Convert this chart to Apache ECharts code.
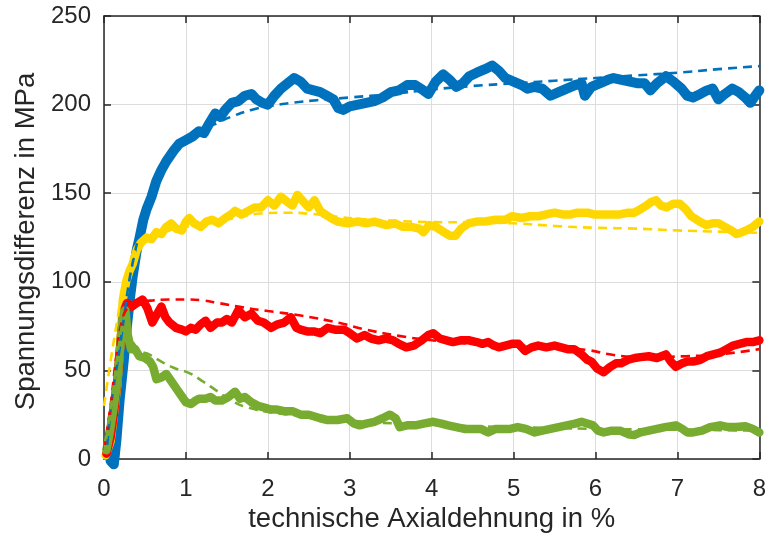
<!DOCTYPE html>
<html>
<head>
<meta charset="utf-8">
<script src="https://cdn.jsdelivr.net/npm/echarts@6/dist/echarts.min.js"></script>
<style>html,body{margin:0;padding:0;background:#fff}#c{width:769px;height:539px}</style>
</head>
<body>
<div id="c"></div>
<script>
var xTicks = [0,1,2,3,4,5,6,7,8];
var yTicks = [0,50,100,150,200,250];
var xTitle = 'technische Axialdehnung in %';
var yTitle = 'Spannungsdifferenz in MPa';

var blueMeas = [[0.08,-1],[0.12,-3],[0.15,10],[0.19,33],[0.24,55],[0.28,75],[0.32,92],[0.35,103],[0.40,118],[0.43,124],[0.48,135],[0.52,141],[0.58,148],[0.64,157],[0.70,163],[0.76,168],[0.85,174],[0.92,178],[1.0,180],[1.08,182],[1.16,185],[1.22,184],[1.28,189],[1.36,195],[1.42,193],[1.48,197],[1.56,201],[1.64,202],[1.72,205],[1.80,206],[1.86,203],[1.93,201],[2.0,200],[2.08,205],[2.16,209],[2.24,212],[2.32,215],[2.40,213],[2.48,209],[2.56,208],[2.64,207],[2.72,205],[2.80,203],[2.86,198],[2.92,197],[3.0,199],[3.1,200],[3.2,201],[3.3,202],[3.4,204],[3.5,207],[3.6,208],[3.7,211],[3.8,211],[3.9,208],[3.96,206],[4.05,213],[4.14,217],[4.22,214],[4.30,210],[4.38,212],[4.46,216],[4.55,218],[4.65,220],[4.74,222],[4.82,219],[4.9,215],[5.0,213],[5.1,211],[5.17,209],[5.25,210],[5.35,209],[5.45,205],[5.55,207],[5.65,209],[5.75,211],[5.83,212],[5.87,205],[5.95,210],[6.05,212],[6.15,214],[6.22,215],[6.32,214],[6.42,213],[6.52,212],[6.6,212],[6.67,208],[6.75,212],[6.86,216],[6.95,213],[7.05,209],[7.12,205],[7.19,204],[7.28,206],[7.36,208],[7.43,209],[7.5,203],[7.58,206],[7.67,209],[7.75,207],[7.83,204],[7.89,201],[7.95,205],[8.0,208]];
var blueFit = [[0.04,8],[0.1,35],[0.19,62],[0.25,82],[0.31,101],[0.37,115],[0.43,127],[0.5,140],[0.6,152],[0.7,161],[0.8,168],[0.9,174],[1.0,178],[1.2,185],[1.4,190],[1.6,194],[1.8,197],[2.0,199],[2.3,201],[2.6,202.5],[3.0,204],[3.5,206],[4.0,208.5],[4.5,210.5],[5.0,212],[5.5,213.5],[6.0,215],[6.5,216.5],[7.0,218],[7.5,220],[8.0,221.7]];

var yellowMeas = [[0.02,2],[0.08,10],[0.12,25],[0.16,41],[0.20,65],[0.23,90],[0.27,100],[0.31,106],[0.35,110],[0.40,118],[0.45,122],[0.52,125],[0.58,124],[0.64,128],[0.70,127],[0.76,131],[0.82,133],[0.88,130],[0.95,129],[1.0,134],[1.04,136],[1.1,133],[1.18,131],[1.25,134],[1.32,135],[1.4,133],[1.48,136],[1.55,138],[1.6,140],[1.68,138],[1.76,140],[1.84,142],[1.92,142],[2.0,146],[2.08,143],[2.16,148],[2.24,145],[2.3,143],[2.36,149],[2.44,145],[2.5,142],[2.57,146],[2.64,140],[2.7,138],[2.77,136],[2.85,134],[2.97,133],[3.1,134],[3.2,133],[3.3,134],[3.45,132],[3.55,133],[3.65,131],[3.75,131],[3.85,130],[3.9,128],[3.97,132],[4.05,131],[4.15,128],[4.22,126],[4.29,126],[4.36,130],[4.45,133],[4.55,134],[4.65,134],[4.78,135],[4.9,135],[4.98,137],[5.1,136],[5.2,137],[5.3,137],[5.4,138],[5.5,139],[5.6,138],[5.7,138],[5.78,139],[5.9,139],[5.98,138],[6.1,138],[6.2,138],[6.3,138],[6.4,139],[6.47,139],[6.55,141],[6.62,143],[6.68,145],[6.74,146],[6.8,143],[6.87,142],[6.95,144],[7.03,144],[7.1,141],[7.17,137],[7.27,134],[7.35,132],[7.43,133],[7.5,133],[7.58,131],[7.66,129],[7.72,127],[7.76,127.5],[7.84,129],[7.92,131],[8.0,134]];
var yellowFit = [[0.0,30],[0.07,52],[0.15,75],[0.23,96],[0.3,108],[0.35,115],[0.45,121],[0.6,125],[0.8,129],[1.0,131],[1.3,134],[1.6,136],[1.9,138.5],[2.2,139],[2.5,138.5],[2.8,137],[3.1,135.5],[3.5,134.5],[4.0,133.7],[4.5,133.5],[5.0,133],[5.5,131.5],[6.0,130.5],[6.5,130],[7.0,129],[7.5,128.3],[8.0,127.6]];

var redMeas = [[0.03,3],[0.08,12],[0.12,25],[0.16,43],[0.2,65],[0.23,82],[0.28,88],[0.34,86],[0.4,88],[0.47,90],[0.53,85],[0.59,77],[0.65,82],[0.7,86],[0.75,80],[0.8,77],[0.88,74],[0.95,73],[1.0,72],[1.06,74],[1.12,73],[1.18,76],[1.24,78],[1.3,74],[1.38,77],[1.44,77],[1.5,79],[1.56,77],[1.64,84],[1.72,80],[1.8,82],[1.88,78],[1.95,77],[2.04,74],[2.12,76],[2.2,77],[2.28,80],[2.35,74],[2.4,73],[2.48,72],[2.56,72],[2.64,71],[2.73,74],[2.82,73],[2.93,73],[3.0,71],[3.09,68],[3.18,70],[3.26,68],[3.35,67],[3.44,68],[3.53,67],[3.6,65],[3.69,63],[3.78,64],[3.88,67],[3.96,70],[4.02,71],[4.1,68],[4.18,67],[4.26,66],[4.35,67],[4.45,67],[4.55,66],[4.62,65],[4.69,66],[4.76,64],[4.82,63],[4.9,64],[4.98,65],[5.06,65],[5.14,61],[5.22,63],[5.3,64],[5.4,63],[5.5,64],[5.58,63],[5.66,62],[5.74,62],[5.83,59],[5.9,56],[5.95,55],[6.02,51],[6.1,49],[6.18,52],[6.25,54],[6.31,54],[6.4,56],[6.48,57],[6.55,57.5],[6.65,58],[6.75,57],[6.86,59],[6.92,55],[6.98,52],[7.06,54],[7.12,55],[7.19,55],[7.28,56],[7.36,58],[7.44,59],[7.52,60],[7.6,62],[7.68,64],[7.76,65],[7.84,66],[7.92,66],[8.0,67]];
var redFit = [[0.0,5],[0.08,30],[0.15,58],[0.22,78],[0.3,86],[0.4,88.5],[0.6,89.5],[0.8,90],[1.0,90],[1.2,89.5],[1.4,88],[1.68,85.7],[2.0,83.5],[2.4,81],[2.88,76.7],[3.2,73],[3.6,69.5],[4.0,67],[4.5,65],[5.0,64],[5.5,63],[5.9,61.5],[6.22,58.7],[6.6,57.5],[7.1,58],[7.5,59],[8.0,62]];

var greenMeas = [[0.03,5],[0.07,15],[0.12,30],[0.16,43],[0.2,65],[0.23,82],[0.26,84],[0.29,70],[0.33,62],[0.38,62],[0.43,58],[0.5,57],[0.56,55],[0.6,52],[0.64,45],[0.7,46],[0.76,48],[0.82,44],[0.88,40],[0.94,36],[1.0,32],[1.06,31],[1.12,33],[1.16,34],[1.24,34],[1.3,35],[1.36,33],[1.44,33],[1.52,35],[1.6,38],[1.66,34],[1.72,35],[1.8,32],[1.88,30],[1.96,29],[2.03,28],[2.1,28],[2.2,27],[2.3,27],[2.4,25],[2.5,25],[2.64,23],[2.73,22],[2.85,22],[2.97,23],[3.05,20],[3.12,19],[3.2,20],[3.3,21],[3.4,23],[3.49,25],[3.56,23],[3.61,18],[3.7,19],[3.8,19],[3.9,20],[4.02,21],[4.12,20],[4.2,19],[4.3,18],[4.4,17],[4.5,17],[4.6,17],[4.69,15],[4.78,17],[4.88,17],[4.96,17],[5.05,18],[5.15,17],[5.26,15],[5.35,16],[5.45,17],[5.55,18],[5.65,19],[5.75,20],[5.83,21],[5.9,20],[5.97,19],[6.03,16],[6.1,15],[6.2,16],[6.3,16],[6.4,14],[6.47,13.5],[6.55,15],[6.65,16],[6.75,17],[6.85,18],[6.98,19],[7.06,17],[7.12,15],[7.19,15],[7.3,16],[7.4,18],[7.52,19],[7.62,18],[7.72,18],[7.83,18.5],[7.92,17],[8.0,15]];
var greenFit = [[0.0,3],[0.1,35],[0.2,70],[0.26,80],[0.33,68],[0.45,61],[0.55,59],[0.7,55],[0.85,51.5],[1.04,48.5],[1.2,44],[1.36,39],[1.55,33],[1.76,29],[2.09,26],[2.4,24.5],[2.8,22.5],[3.2,21],[3.6,20],[4.0,19.5],[4.5,18.5],[5.0,18],[5.5,17.5],[6.0,17],[6.5,16.7],[7.0,16.5],[7.5,16.3],[8.0,16]];

var cBlue = '#0072BD', cYellow = '#FFD700', cRed = '#FF0000', cGreen = '#77AC30';
var font = '"Liberation Sans", Arial, Helvetica, sans-serif';
var axisCol = '#262626';

function meas(d, c, w) {
  return {type:'line', data:d, showSymbol:false, symbol:'none', clip:false, smooth:false,
    lineStyle:{color:c, width:w, join:'round', cap:'round'}, itemStyle:{color:c}, z:2};
}
function fit(d, c) {
  return {type:'line', data:d, showSymbol:false, symbol:'none', smooth:true, clip:false,
    lineStyle:{color:c, width:2.6, type:[9,6]}, itemStyle:{color:c}, z:3};
}

var chart = echarts.init(document.getElementById('c'), null, {renderer:'canvas'});
var xCommon = {type:'value', min:xTicks[0], max:xTicks[xTicks.length-1], interval:1};
var yCommon = {type:'value', min:yTicks[0], max:yTicks[yTicks.length-1], interval:50};
chart.setOption({
  animation:false,
  backgroundColor:'#fff',
  grid:{left:104, right:2, top:16, bottom:80, containLabel:false},
  xAxis:[
    Object.assign({}, xCommon, {position:'bottom', name:xTitle, nameLocation:'middle', nameGap:45,
      nameTextStyle:{fontFamily:font, fontSize:27.5, color:axisCol},
      axisLine:{show:true, lineStyle:{color:axisCol, width:1.5}},
      axisTick:{show:true, inside:true, length:7, lineStyle:{color:axisCol, width:1.5}},
      axisLabel:{fontFamily:font, fontSize:24, color:axisCol, margin:18},
      splitLine:{show:true, lineStyle:{color:'#dcdcdc', width:1}}}),
    Object.assign({}, xCommon, {position:'top',
      axisLine:{show:true, onZero:false, lineStyle:{color:axisCol, width:1.5}},
      axisTick:{show:true, inside:true, length:7, lineStyle:{color:axisCol, width:1.5}},
      axisLabel:{show:false}, splitLine:{show:false}})
  ],
  yAxis:[
    Object.assign({}, yCommon, {position:'left', name:yTitle, nameLocation:'middle', nameGap:62,
      nameTextStyle:{fontFamily:font, fontSize:27.5, color:axisCol, padding:[0,8,0,0]},
      axisLine:{show:true, onZero:false, lineStyle:{color:axisCol, width:1.5}},
      axisTick:{show:true, inside:true, length:7, lineStyle:{color:axisCol, width:1.5}},
      axisLabel:{fontFamily:font, fontSize:24, color:axisCol, margin:13},
      splitLine:{show:true, lineStyle:{color:'#dcdcdc', width:1}}}),
    Object.assign({}, yCommon, {position:'right',
      axisLine:{show:true, onZero:false, lineStyle:{color:axisCol, width:1.5}},
      axisTick:{show:true, inside:true, length:7, lineStyle:{color:axisCol, width:1.5}},
      axisLabel:{show:false}, splitLine:{show:false}})
  ],
  series:[
    meas(blueMeas, cBlue, 10),
    fit(blueFit, cBlue),
    meas(yellowMeas, cYellow, 8.5),
    fit(yellowFit, cYellow),
    meas(redMeas, cRed, 8.5),
    fit(redFit, cRed),
    meas(greenMeas, cGreen, 8.5),
    fit(greenFit, cGreen)
  ]
});
</script>
</body>
</html>
